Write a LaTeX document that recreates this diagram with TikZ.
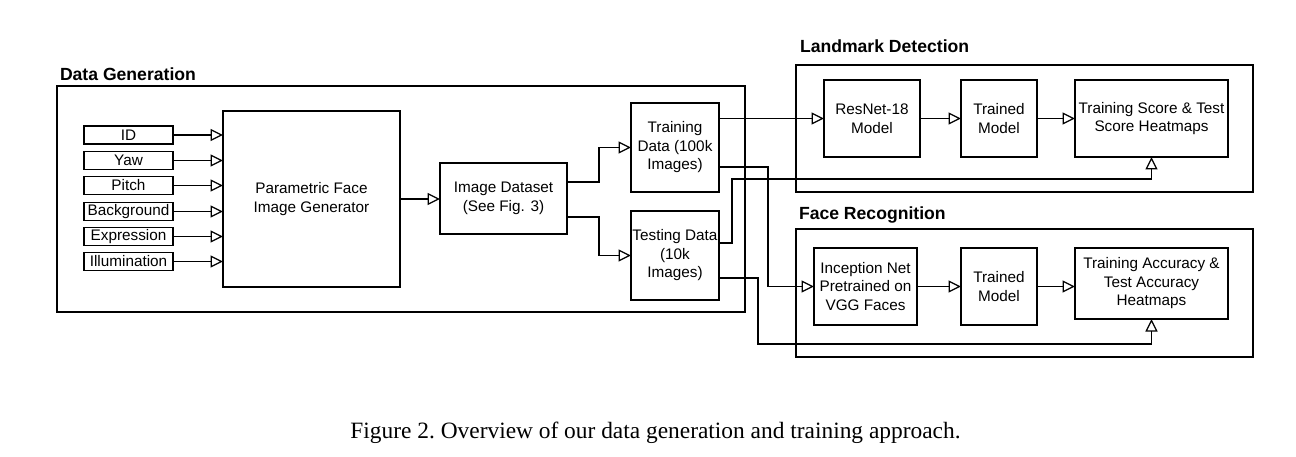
\documentclass[tikz,border=0pt]{standalone}
\usepackage{fontspec}
\setmainfont{Liberation Sans}
\newfontfamily\capfont{Liberation Serif}
\usetikzlibrary{arrows.meta,calc}
\begin{document}
\begin{tikzpicture}[x=1pt,y=-1pt,
  every node/.style={inner sep=0pt, outer sep=0pt},
  box/.style={draw, line width=1.25pt, align=center, font=\fontsize{15.3}{18.5}\selectfont},
  frame/.style={draw, line width=1.25pt},
  ttl/.style={anchor=west, font=\fontsize{17.6}{20}\selectfont\bfseries},
  arr/.style={line width=1.25pt, -{Triangle[open, length=12.5pt, width=12pt]}}]
\useasboundingbox (0,0) rectangle (1296,457);
% frames
\node[frame, minimum width=688pt, minimum height=226pt] (dgf) at (401,199) {};
\node[frame, minimum width=457pt, minimum height=127pt] (ldf) at (1024.5,128.5) {};
\node[frame, minimum width=457pt, minimum height=128pt] (frf) at (1024.5,293) {};
\node[ttl] (tdg) at (60,74) {Data Generation};
\node[ttl] (tld) at (800,46) {Landmark Detection};
\node[ttl] (tfr) at (799,215) {Face Recognition};
% inputs
\foreach \n/\t/\y in {i1/ID/135, i2/Yaw/160.5, i3/Pitch/185.5, i4/Background/211.5, i5/Expression/236.5, i6/Illumination/261.5}
  \node[box, minimum width=89pt, minimum height=18pt] (\n) at (128.5,\y) {\t};
\node[box, minimum width=177pt, minimum height=176pt] (gen) at (311.5,199) {Parametric Face\\Image Generator};
\foreach \n in {i1,i2,i3,i4,i5,i6}
  \draw[arr] (\n.east) -- (\n.east -| gen.west);
\node[box, minimum width=127pt, minimum height=71pt] (ds) at (503.5,198.5) {Image Dataset\\(See Fig. 3)};
\draw[arr] (gen.east) -- (gen.east -| ds.west);
\node[box, minimum width=88pt, minimum height=89pt] (train) at (675,147.5) {Training\\Data (100k\\Images)};
\node[box, minimum width=88pt, minimum height=89pt] (test) at (675,255.5) {Testing Data\\(10k\\Images)};
\draw[arr] ([yshift=16.5pt]ds.east) -- ++(32,0) |- (train.west);
\draw[arr] ([yshift=-18.5pt]ds.east) -- ++(32,0) |- (test.west);
% landmark
\node[box, minimum width=96pt, minimum height=77pt] (resnet) at (872,118.5) {ResNet-18\\Model};
\node[box, minimum width=76pt, minimum height=77pt] (tm1) at (999,118.5) {Trained\\Model};
\node[box, minimum width=153pt, minimum height=77pt] (hm1) at (1151.5,118.5) {Training Score \& Test\\Score Heatmaps};
\draw[arr] (resnet.east) -- (tm1.west);
\draw[arr] (tm1.east) -- (hm1.west);
% face recognition
\node[box, minimum width=103pt, minimum height=77pt] (incep) at (865.5,286.5) {Inception Net\\Pretrained on\\VGG Faces};
\node[box, minimum width=76pt, minimum height=77pt] (tm2) at (999,286.5) {Trained\\Model};
\node[box, minimum width=153pt, minimum height=71pt] (hm2) at (1151.5,283.5) {Training Accuracy \&\\Test Accuracy\\Heatmaps};
\draw[arr] (incep.east) -- (tm2.west);
\draw[arr] (tm2.east) -- (tm2.east -| hm2.west);
% cross connections
\draw[arr] (train.east |- resnet.west) -- (resnet.west);
\draw[arr] ([yshift=-19.5pt]train.east) -- ++(49,0) |- (incep.west);
\draw[arr] ([yshift=12.5pt]test.east) -- ++(13,0) |- ($(hm1.south)+(0,22)$) -- (hm1.south);
\draw[arr] ([yshift=-22.5pt]test.east) -- ++(39,0) |- ($(hm2.south)+(0,25)$) -- (hm2.south);
% caption
\node[font=\capfont\fontsize{23.4}{26}\selectfont] (cap) at (655.5,433) {\frenchspacing Figure 2. Overview of our data generation and training approach.};
\end{tikzpicture}
\end{document}
